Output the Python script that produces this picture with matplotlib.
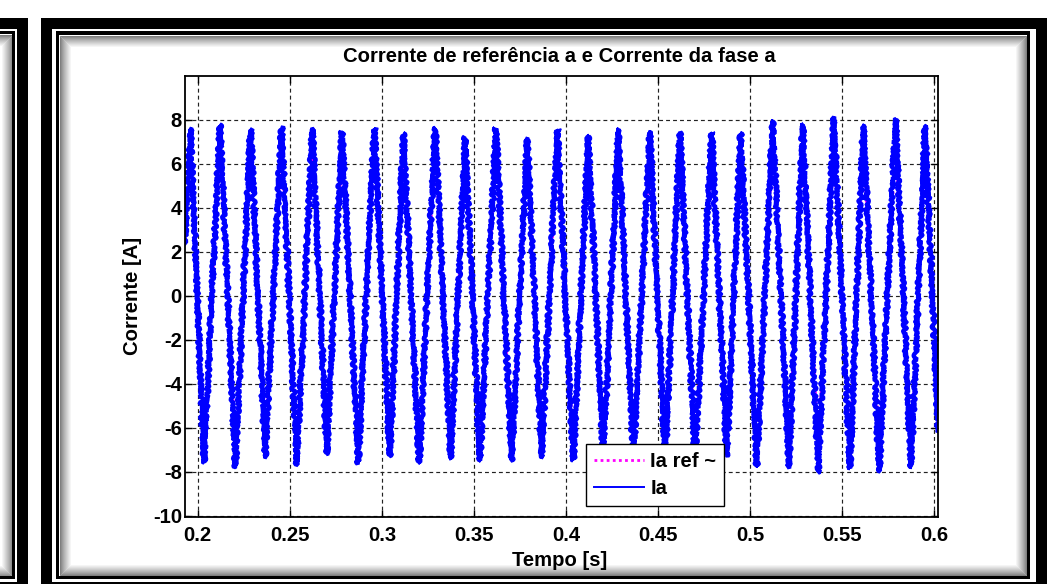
import matplotlib
matplotlib.use("Agg")
import matplotlib.pyplot as plt
from matplotlib.patches import Rectangle

plt.rcParams['font.family'] = ['Liberation Sans', 'DejaVu Sans']
plt.rcParams['font.weight'] = 'bold'

# ---------------- data ----------------
title = "Corrente de referência a e Corrente da fase a"
xlabel = "Tempo [s]"
ylabel = "Corrente [A]"
legend_labels = ["Ia ref ~", "Ia"]

xticks = [0.2, 0.25, 0.3, 0.35, 0.4, 0.45, 0.5, 0.55, 0.6]
xticklabels = ["0.2", "0.25", "0.3", "0.35", "0.4", "0.45", "0.5", "0.55", "0.6"]
yticks = [-10, -8, -6, -4, -2, 0, 2, 4, 6, 8]
yticklabels = ["-10", "-8", "-6", "-4", "-2", "0", "2", "4", "6", "8"]

# first and last visible samples of the phase current
ia_start_t, ia_start = 0.1931, 2.4
ia_end_t, ia_end = 0.6022, -6.2

# positive peaks of the phase current Ia
peak_t = [0.1961, 0.2121, 0.2287, 0.2455, 0.2623, 0.2784, 0.2959, 0.3117,
          0.3289, 0.3452, 0.3620, 0.3790, 0.3953, 0.4121, 0.4284, 0.4456,
          0.4619, 0.4791, 0.4949, 0.5123, 0.5285, 0.5455, 0.5615, 0.5790,
          0.5950]
peak_i = [7.6, 7.8, 7.6, 7.7, 7.6, 7.5, 7.65, 7.4,
          7.65, 7.25, 7.65, 7.15, 7.6, 7.3, 7.6, 7.45,
          7.45, 7.45, 7.4, 7.95, 7.8, 8.1, 7.75, 8.05,
          7.75]

# negative peaks of the phase current Ia
trough_t = [0.2034, 0.2205, 0.2366, 0.2538, 0.2701, 0.2872, 0.3044, 0.3203,
            0.3374, 0.3533, 0.3705, 0.3868, 0.4040, 0.4203, 0.4366, 0.4538,
            0.4701, 0.4873, 0.5036, 0.5211, 0.5370, 0.5542, 0.5701, 0.5874]
trough_i = [-7.6, -7.8, -7.35, -7.7, -7.2, -7.65, -7.3, -7.6,
            -7.4, -7.5, -7.5, -7.35, -7.5, -7.5, -7.5, -7.6,
            -7.6, -7.3, -7.75, -7.8, -8.05, -7.85, -8.0, -7.8]

# reference current peaks (mostly hidden under Ia)
ref_peak_i = [6.5, 6.5, 6.5, 6.5, 6.5, 6.5, 6.5, 6.5,
              6.5, 6.5, 6.5, 6.5, 6.5, 6.5, 6.5, 6.5,
              6.5, 6.5, 6.5, 6.5, 6.5, 6.5, 6.5, 6.5,
              6.5]
ref_trough_i = [-6.5, -6.5, -6.5, -6.5, -6.5, -6.5, -6.5, -6.5,
                -6.5, -6.5, -6.5, -6.5, -6.5, -6.5, -6.5, -6.5,
                -6.5, -6.5, -6.5, -6.5, -6.5, -6.5, -6.5, -6.5]

# ---------------- build series ----------------
ia_pts = sorted([(ia_start_t, ia_start), (ia_end_t, ia_end)]
                + list(zip(peak_t, peak_i)) + list(zip(trough_t, trough_i)))
ia_t = [p[0] for p in ia_pts]
ia_v = [p[1] for p in ia_pts]

ref_pts = sorted([(ia_start_t, ia_start), (ia_end_t, ia_end)]
                 + list(zip(peak_t, ref_peak_i)) + list(zip(trough_t, ref_trough_i)))
ref_t = [p[0] for p in ref_pts]
ref_v = [p[1] for p in ref_pts]

# ---------------- figure ----------------
W, H = 1056, 584
FS = 14.6
fig = plt.figure(figsize=(W / 100, H / 100), dpi=100)
fig.patch.set_facecolor('white')


def prect(x0, y0, x1, y1, color, z=1):
    fig.add_artist(Rectangle((x0 / W, 1 - y1 / H), (x1 - x0) / W, (y1 - y0) / H,
                             transform=fig.transFigure, facecolor=color,
                             edgecolor='none', zorder=z))


def orect(x0, y0, x1, y1, color, lw_px=1.0, z=1):
    fig.add_artist(Rectangle((x0 / W, 1 - y1 / H), (x1 - x0) / W, (y1 - y0) / H,
                             transform=fig.transFigure, facecolor='none',
                             edgecolor=color, linewidth=lw_px * 0.72, zorder=z))


# inner bevel shadow (gradient) of the panels
n_sh = 12
for k in range(n_sh):
    g = 0.42 + 0.58 * ((k + 1) / n_sh) ** 0.8
    col = (g, g, g)
    orect(59 + k + 0.5, 35 + k + 0.5, 1026.5 - k - 0.5, 575 - k - 0.5, col, 1.0, z=0.5)
    orect(-30, 34 + k + 0.5, 12.3 - k - 0.5, 576 - k - 0.5, col, 1.0, z=0.5)

# main panel frame
prect(41, 18, 1047, 29, 'black')
prect(41, 18, 52, 620, 'black')
prect(1036, 18, 1047, 620, 'black')
prect(41, 582, 1047, 620, 'black')
prect(55.5, 31.5, 1029.5, 35, 'black')
prect(55.5, 31.5, 59, 579, 'black')
prect(1026.5, 31.5, 1029.5, 579, 'black')
prect(55.5, 575.5, 1029.5, 579, 'black')

# partial panel on the left edge
prect(-5, 18, 27.7, 29, 'black')
prect(16.7, 18, 27.7, 620, 'black')
prect(-5, 582, 27.7, 620, 'black')
prect(-5, 31, 15, 34, 'black')
prect(12.3, 31, 15, 579, 'black')
prect(-5, 576, 15, 579, 'black')

# ---------------- axes ----------------
ax_l, ax_r, ax_t, ax_b = 185, 938.3, 76, 517
ax = fig.add_axes([ax_l / W, 1 - ax_b / H, (ax_r - ax_l) / W, (ax_b - ax_t) / H])
ax.set_facecolor('white')

ref_line, = ax.plot(ref_t, ref_v, color='#ff00ff', linestyle=(0, (1, 1.2)),
                    linewidth=1.6, label=legend_labels[0], zorder=2)
ia_line, = ax.plot(ia_t, ia_v, color='#0000ff', linewidth=3.1,
                   solid_joinstyle='bevel', label=legend_labels[1], zorder=3)
# high-frequency switching ripple look
ia_line.set_sketch_params(scale=2.0, length=6, randomness=3)

ax.set_xlim(0.1931, 0.6022)
ax.set_ylim(-10.06, 10.0)
ax.set_xticks(xticks)
ax.set_xticklabels(xticklabels)
ax.set_yticks(yticks)
ax.set_yticklabels(yticklabels)
ax.tick_params(direction='in', length=5, width=1, top=True, right=True,
               labelsize=FS, colors='black')
ax.tick_params(axis='x', pad=6.5)
ax.tick_params(axis='y', pad=2.2)
for lab in ax.get_xticklabels() + ax.get_yticklabels():
    lab.set_fontweight('bold')

ax.set_axisbelow(False)
ax.grid(True, color='#222222', linestyle=(0, (3.3, 2.6)), linewidth=0.85, zorder=4)
for s in ax.spines.values():
    s.set_linewidth(1.3)
    s.set_color('black')
    s.set_zorder(5)

leg = ax.legend(loc='lower left', bbox_to_anchor=((586 - ax_l) / (ax_r - ax_l),
                                                   (ax_b - 506) / (ax_b - ax_t)),
                borderaxespad=0, fancybox=False, framealpha=1, edgecolor='black',
                prop={'size': FS, 'weight': 'bold'}, handlelength=2.45,
                handletextpad=0.32, borderpad=0.4, labelspacing=0.38)
leg.get_frame().set_linewidth(1.0)
leg.set_zorder(10)
leg_lines = leg.get_lines()
leg_lines[1].set_linewidth(1.4)
leg_lines[1].set_sketch_params(None)
leg_lines[0].set_linewidth(2.0)

# titles
cx = (ax_l + ax_r) / 2 - 2
fig.text(cx / W, 1 - 62.5 / H, title, ha='center', va='baseline',
         fontsize=FS, fontweight='bold')
fig.text(cx / W, 1 - 566 / H, xlabel, ha='center', va='baseline',
         fontsize=FS, fontweight='bold')
fig.text(138.5 / W, 1 - 296 / H, ylabel, ha='center', va='baseline', rotation=90,
         rotation_mode='anchor', fontsize=FS, fontweight='bold')

fig.savefig('out.png', dpi=100)
